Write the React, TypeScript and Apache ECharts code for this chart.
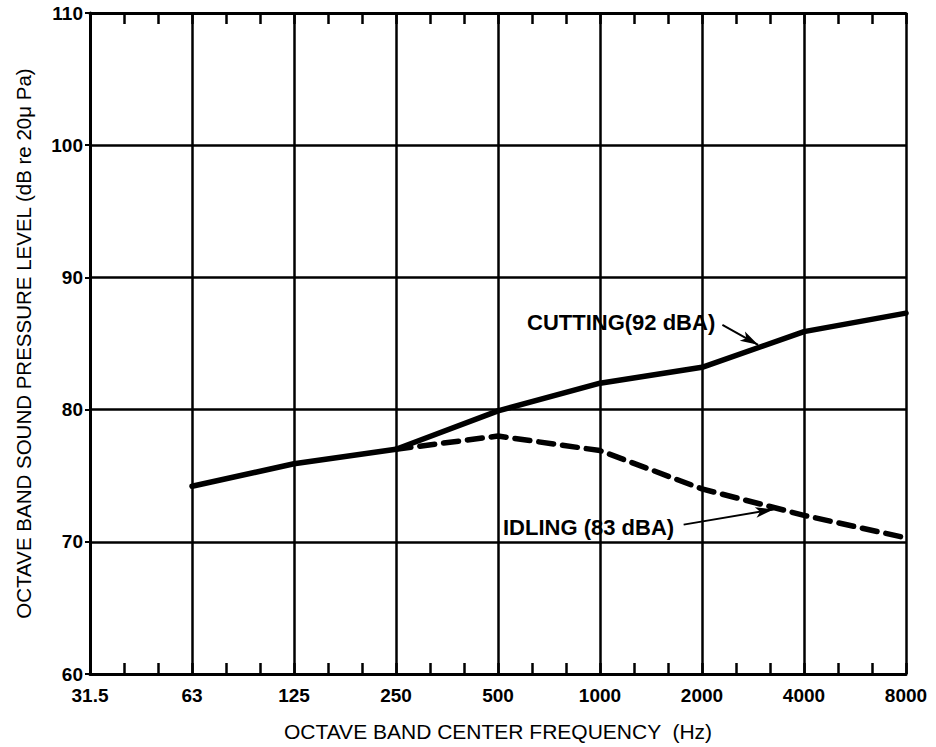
import React, { useEffect, useRef } from "react";
import * as echarts from "echarts";

// Octave band centre frequencies (x positions are octave indices 0..8)
const bandLabels = ["31.5", "63", "125", "250", "500", "1000", "2000", "4000", "8000"];

// Cutting (92 dBA): 63 Hz .. 8000 Hz
const cuttingBands = [1, 2, 3, 4, 5, 6, 7, 8];
const cuttingLevels = [74.2, 75.9, 77.0, 79.9, 82.0, 83.2, 85.9, 87.3];

// Idling (83 dBA): 250 Hz .. 8000 Hz
const idlingBands = [3, 4, 5, 6, 7, 8];
const idlingLevels = [77.0, 78.0, 76.9, 74.0, 72.0, 70.3];

// Annotation arrows [start, tip] in (octave index, dB)
const cuttingArrow = [[6.2, 86.4], [6.55, 84.9]];
const idlingArrow = [[5.82, 71.3], [6.7, 72.45]];

const FONT = "Liberation Sans";

export default function App() {
  const ref = useRef<HTMLDivElement>(null);

  useEffect(() => {
    if (!ref.current) return;
    const chart = echarts.init(ref.current, undefined, { renderer: "svg" });

    const cutting = cuttingBands.map((b, i) => [b, cuttingLevels[i]]);
    const idling = idlingBands.map((b, i) => [b, idlingLevels[i]]);

    const arrowLine = (pts: number[][]) => ({
      silent: true,
      symbol: ["none", "arrow"],
      symbolSize: [8, 18],
      label: { show: false },
      lineStyle: { color: "#000", width: 2, type: "solid" },
      data: [[{ coord: pts[0] }, { coord: pts[1] }]],
    });

    chart.setOption({
      animation: false,
      backgroundColor: "#fff",
      grid: { left: 90, right: 30, top: 13, bottom: 70, containLabel: false },
      xAxis: [
        {
          type: "value",
          position: "bottom",
          min: 0,
          max: 8,
          interval: 1,
          name: "OCTAVE BAND CENTER FREQUENCY  (Hz)",
          nameLocation: "middle",
          nameGap: 47,
          nameTextStyle: { fontFamily: FONT, fontSize: 21, color: "#000" },
          axisLine: { show: true, onZero: false, lineStyle: { color: "#000", width: 3 } },
          axisTick: { show: true, inside: true, length: 11, lineStyle: { color: "#000", width: 2.5 } },
          minorTick: { show: true, splitNumber: 3, length: 11, lineStyle: { color: "#000", width: 2.5 } },
          splitLine: { show: true, lineStyle: { color: "#000", width: 2.5 } },
          axisLabel: {
            margin: 12,
            fontFamily: FONT,
            fontSize: 19,
            fontWeight: "bold",
            color: "#000",
            formatter: (v: number) => bandLabels[Math.round(v)] ?? "",
          },
        },
        {
          type: "value",
          position: "top",
          min: 0,
          max: 8,
          interval: 1,
          axisLine: { show: true, onZero: false, lineStyle: { color: "#000", width: 3 } },
          axisTick: { show: true, inside: true, length: 11, lineStyle: { color: "#000", width: 2.5 } },
          minorTick: { show: true, splitNumber: 3, length: 11, lineStyle: { color: "#000", width: 2.5 } },
          splitLine: { show: false },
          axisLabel: { show: false },
        },
      ],
      yAxis: {
        type: "value",
        min: 60,
        max: 110,
        interval: 10,
        name: "OCTAVE BAND SOUND PRESSURE LEVEL (dB re 20\u03bc Pa)",
        nameLocation: "middle",
        nameGap: 56,
        nameTextStyle: { fontFamily: FONT, fontSize: 20.5, color: "#000" },
        axisLine: { show: true, lineStyle: { color: "#000", width: 3 } },
        axisTick: { show: true, inside: false, length: 5, lineStyle: { color: "#000", width: 2 } },
        splitLine: { show: true, lineStyle: { color: "#000", width: 2.5 } },
        axisLabel: { margin: 7, fontFamily: FONT, fontSize: 19, fontWeight: "bold", color: "#000" },
      },
      series: [
        {
          name: "CUTTING (92 dBA)",
          type: "line",
          xAxisIndex: 0,
          data: cutting,
          symbol: "none",
          lineStyle: { color: "#000", width: 5.5, cap: "round", join: "round" },
          markLine: arrowLine(cuttingArrow),
          z: 5,
        },
        {
          name: "IDLING (83 dBA)",
          type: "line",
          xAxisIndex: 0,
          data: idling,
          symbol: "none",
          lineStyle: { color: "#000", width: 5.5, type: [15, 9], cap: "round" },
          markLine: arrowLine(idlingArrow),
          z: 4,
        },
      ],
      graphic: [
        {
          type: "text",
          left: 527,
          top: 311,
          style: { text: "CUTTING(92 dBA)", fontFamily: FONT, fontSize: 22, fontWeight: "bold", fill: "#000" },
          z: 10,
        },
        {
          type: "text",
          left: 503,
          top: 516,
          style: { text: "IDLING (83 dBA)", fontFamily: FONT, fontSize: 22, fontWeight: "bold", fill: "#000" },
          z: 10,
        },
      ],
    });

    return () => chart.dispose();
  }, []);

  return (
    <div
      ref={ref}
      style={{ position: "absolute", left: 0, top: 0, width: 936, height: 747, background: "#fff" }}
    />
  );
}
